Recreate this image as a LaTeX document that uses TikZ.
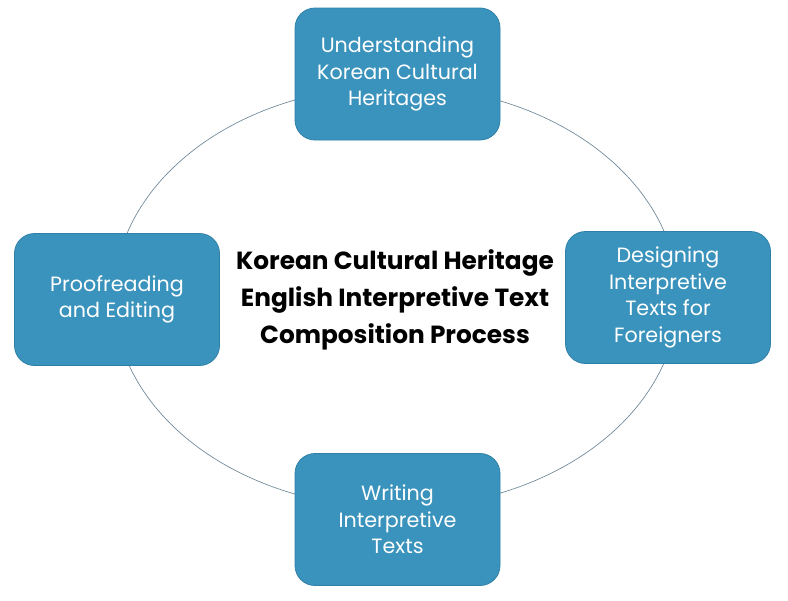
\documentclass[tikz,border=0pt]{standalone}
\usepackage{fontspec}
\setmainfont{Poppins}
\usetikzlibrary{positioning}
\definecolor{stepBlue}{HTML}{3A93BC}
\definecolor{stepEdge}{HTML}{2F80A8}
\definecolor{ringGray}{HTML}{6E8796}
\tikzset{
    stepNode/.style={rectangle, rounded corners=15pt, draw=stepEdge, line width=0.6pt, fill=stepBlue, text=white, align=center, inner sep=0pt, minimum width=153.75pt, minimum height=99pt, font=\fontsize{15.5}{20}\selectfont},
    titleNode/.style={align=center, text=black, font=\fontsize{18.6}{27.75}\selectfont\bfseries},
    ringLine/.style={draw=ringGray, line width=0.5pt},
}
\begin{document}
\begin{tikzpicture}[x=0.75pt, y=-0.75pt]

        \useasboundingbox (0,0) rectangle (788,600);

        \draw[ringLine] (396,297) ellipse [x radius=211.5pt, y radius=158.25pt];

        \node[stepNode] (understand) at (397.5,74) {Understanding\\Korean Cultural\\Heritages};
        \node[stepNode] (design) at (668,297.5) {Designing\\Interpretive\\Texts for\\Foreigners};
        \node[stepNode] (write) at (397.5,519.5) {Writing\\Interpretive\\Texts};
        \node[stepNode] (proof) at (117,299.5) {Proofreading\\and Editing};

        \node[titleNode] (title) at (395,300) {Korean Cultural Heritage\\English Interpretive Text\\Composition Process};

    \end{tikzpicture}
\end{document}
